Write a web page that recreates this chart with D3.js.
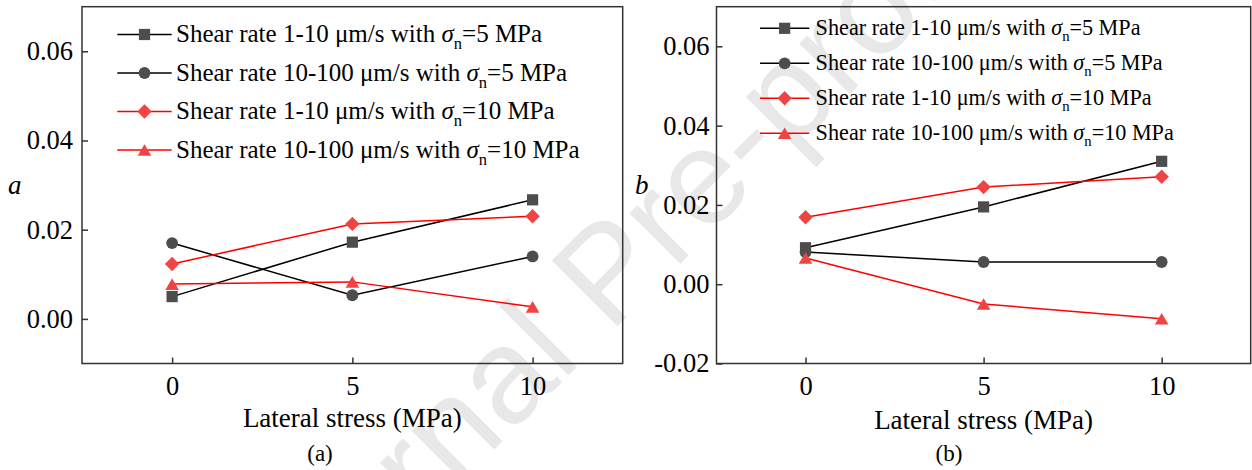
<!DOCTYPE html>
<html>
<head>
<meta charset="utf-8">
<script src="https://cdn.jsdelivr.net/npm/d3@7"></script>
<style>
  html, body { margin: 0; padding: 0; background: #fff; }
  svg { display: block; }
  text { font-family: "Liberation Serif", "Times New Roman", serif; fill: #000; }
</style>
</head>
<body>
<svg id="chart" width="1252" height="470"></svg>
<script>
// Lateral stress levels (MPa)
const lateralStress = [0, 5, 10];

// Fitted parameter a
const aSlow5  = [0.0050, 0.0172, 0.0267];
const aFast5  = [0.0170, 0.0053, 0.0140];
const aSlow10 = [0.0123, 0.0213, 0.0230];
const aFast10 = [0.0078, 0.0083, 0.0027];

// Fitted parameter b
const bSlow5  = [0.0092, 0.0195, 0.0310];
const bFast5  = [0.0081, 0.0056, 0.0056];
const bSlow10 = [0.0169, 0.0245, 0.0271];
const bFast10 = [0.0066, -0.0050, -0.0087];

// Legend wording
const rateLabels = ["Shear rate 1-10 \u03bcm/s with ", "Shear rate 10-100 \u03bcm/s with ",
                    "Shear rate 1-10 \u03bcm/s with ", "Shear rate 10-100 \u03bcm/s with "];
const normalLabels = ["=5 MPa", "=5 MPa", "=10 MPa", "=10 MPa"];
const markerKinds = ["square", "circle", "diamond", "triangle"];

const xTicks = [0, 5, 10];
const aTicks = [0.00, 0.02, 0.04, 0.06];
const bTicks = [-0.02, 0.00, 0.02, 0.04, 0.06];

const svg = d3.select("#chart");

// faint diagonal watermark behind the panels
svg.append("text")
  .attr("transform", "translate(606,272) rotate(-45)")
  .attr("text-anchor", "middle")
  .attr("dominant-baseline", "central")
  .style("font-family", "'Liberation Sans', Arial, sans-serif")
  .style("font-size", "135px")
  .style("fill", "#e8e8e8")
  .text("Journal Pre-proof");

const lineColor = ["#000000", "#000000", "#ff0000", "#ff0000"];
const fillColor = ["#4d4d4d", "#4d4d4d", "#ef4444", "#ef4444"];

function markerPath(kind) {
  switch (kind) {
    case "square":  { const h = 5.6; return `M${-h},${-h}H${h}V${h}H${-h}Z`; }
    case "circle":  { const r = 5.9; return `M${r},0A${r},${r} 0 1,1 ${-r},0A${r},${r} 0 1,1 ${r},0Z`; }
    case "diamond": { const h = 7.2; return `M0,${-h}L${h},0L0,${h}L${-h},0Z`; }
    case "triangle":{ const w = 6.8, h = 5.8; return `M0,${-h}L${w},${h}L${-w},${h}Z`; }
  }
}

function drawPanel(cfg) {
  const g = svg.append("g");
  const x = d3.scaleLinear().domain([-2.5, 12.5]).range([cfg.left, cfg.right]);
  const y = d3.scaleLinear().domain(cfg.yDomain).range([cfg.bottom, cfg.top]);

  // axes with inward ticks
  const yAxis = g.append("g").attr("transform", `translate(${cfg.left},0)`)
    .call(d3.axisLeft(y).tickValues(cfg.yTicks).tickFormat(d3.format(".2f"))
      .tickSize(-6).tickPadding(cfg.yPad));
  const xAxis = g.append("g").attr("transform", `translate(0,${cfg.bottom})`)
    .call(d3.axisBottom(x).tickValues(xTicks).tickFormat(d3.format("d"))
      .tickSize(-6).tickPadding(13));
  [yAxis, xAxis].forEach(ax => {
    ax.attr("font-family", null);
    ax.select(".domain").remove();
    ax.selectAll(".tick line").attr("stroke", "#333").attr("stroke-width", 1.5);
    ax.selectAll(".tick text").style("font-size", "26.5px")
      .style("font-family", "'Liberation Serif', 'Times New Roman', serif").attr("fill", "#000");
  });
  yAxis.selectAll(".tick text").text(d => d3.format(".2f")(d).replace("\u2212", "-"));

  // frame
  g.append("rect")
    .attr("x", cfg.left).attr("y", cfg.top)
    .attr("width", cfg.right - cfg.left).attr("height", cfg.bottom - cfg.top)
    .attr("fill", "none").attr("stroke", "#333").attr("stroke-width", 1.5);

  // series lines then markers
  const line = d3.line().x((d, i) => x(lateralStress[i])).y(d => y(d));
  cfg.series.forEach((vals, k) => {
    g.append("path").attr("d", line(vals)).attr("fill", "none")
      .attr("stroke", lineColor[k]).attr("stroke-width", 1.5);
  });
  cfg.series.forEach((vals, k) => {
    g.selectAll(null).data(vals).join("path")
      .attr("transform", (d, i) => `translate(${x(lateralStress[i])},${y(d)})`)
      .attr("d", markerPath(markerKinds[k]))
      .attr("fill", fillColor[k]);
  });

  // legend
  const lg = cfg.legend;
  markerKinds.forEach((kind, k) => {
    const yy = lg.y0 + k * lg.dy;
    g.append("line").attr("x1", lg.x1).attr("x2", lg.x2).attr("y1", yy).attr("y2", yy)
      .attr("stroke", lineColor[k]).attr("stroke-width", 1.5);
    g.append("path").attr("transform", `translate(${(lg.x1 + lg.x2) / 2},${yy})`)
      .attr("d", markerPath(kind)).attr("fill", fillColor[k]);
    const t = g.append("text").attr("x", lg.tx).attr("y", yy + 0.31 * lg.fs)
      .style("font-size", lg.fs + "px");
    t.append("tspan").text(rateLabels[k]);
    t.append("tspan").style("font-style", "italic").text("\u03c3");
    t.append("tspan").attr("dy", 0.28 * lg.fs).style("font-size", (0.66 * lg.fs) + "px").text("n");
    t.append("tspan").attr("dy", -0.28 * lg.fs).text(normalLabels[k]);
  });

  // axis titles and panel caption
  g.append("text").attr("x", (cfg.left + cfg.right) / 2).attr("y", cfg.titleY)
    .attr("text-anchor", "middle").style("font-size", "27px").text("Lateral stress (MPa)");
  g.append("text").attr("x", cfg.yLabelX).attr("y", 194)
    .style("font-size", "27px").style("font-style", "italic").text(cfg.yLabel);
  g.append("text").attr("x", cfg.captionX).attr("y", 461)
    .attr("text-anchor", "middle").style("font-size", "23px").text(cfg.caption);
}

drawPanel({
  left: 82, right: 622.7, top: 6.7, bottom: 363.5,
  yDomain: [-0.01, 0.07], yTicks: aTicks, yPad: 9,
  series: [aSlow5, aFast5, aSlow10, aFast10],
  legend: { x1: 117.3, x2: 171.7, tx: 176, y0: 34.5, dy: 38.5, fs: 25 },
  titleY: 427, yLabel: "a", yLabelX: 8, caption: "(a)", captionX: 320
});

drawPanel({
  left: 716.5, right: 1250.7, top: 6.7, bottom: 363.5,
  yDomain: [-0.02, 0.07], yTicks: bTicks, yPad: 7,
  series: [bSlow5, bFast5, bSlow10, bFast10],
  legend: { x1: 760, x2: 809.3, tx: 815.6, y0: 28.3, dy: 35, fs: 22.2 },
  titleY: 429, yLabel: "b", yLabelX: 635, caption: "(b)", captionX: 949
});
</script>
</body>
</html>
